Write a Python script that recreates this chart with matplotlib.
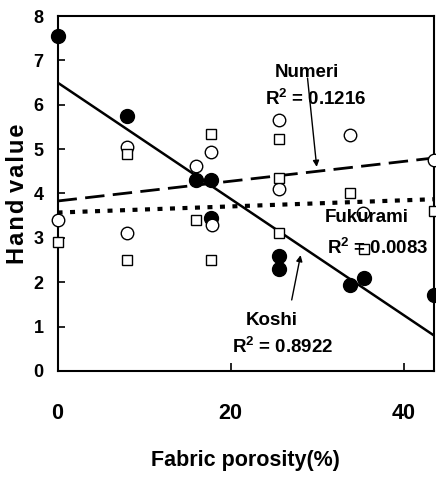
import matplotlib
matplotlib.use("Agg")
import matplotlib.pyplot as plt
import numpy as np

plt.rcParams['font.family'] = ['Liberation Sans', 'DejaVu Sans']
plt.rcParams['font.weight'] = 'bold'
plt.rcParams['mathtext.default'] = 'regular'

# Koshi (filled circles)
koshi_x = [0, 8, 16, 17.7, 17.7, 25.6, 25.6, 33.8, 35.4, 43.5]
koshi_y = [7.55, 5.75, 4.3, 4.3, 3.45, 2.6, 2.3, 1.94, 2.1, 1.71]
# Numeri (open circles)
numeri_x = [0, 8, 8, 16, 17.7, 17.9, 25.6, 25.6, 33.8, 35.3, 43.5]
numeri_y = [3.4, 5.05, 3.1, 4.62, 4.93, 3.3, 5.65, 4.1, 5.32, 3.55, 4.75]
# Fukurami (open squares)
fuku_x = [0, 8, 8, 16, 17.7, 17.7, 25.6, 25.6, 25.6, 33.8, 35.4, 43.5]
fuku_y = [2.9, 4.9, 2.5, 3.4, 5.33, 2.5, 5.22, 4.35, 3.12, 4.0, 2.75, 3.6]

# linear fits (intercept, slope)
koshi_fit = (6.5, -0.131)
numeri_fit = (3.83, 0.0223)
fuku_fit = (3.57, 0.0069)

xlim = (0, 43.5)
ylim = (0, 8)

fig = plt.figure(figsize=(4.36, 4.78), dpi=100)
ax = fig.add_axes([0.132, 0.224, 0.863, 0.7425])

xs = np.array(xlim)
ax.plot(xs, koshi_fit[0] + koshi_fit[1] * xs, '-', color='black', lw=1.8, zorder=2)
ax.plot(xs, numeri_fit[0] + numeri_fit[1] * xs, color='black', lw=2.0,
        dashes=(7, 3), zorder=2)
ax.plot(xs, fuku_fit[0] + fuku_fit[1] * xs, color='black', lw=3.0,
        dashes=(1.2, 1.8), zorder=2)

ax.plot(koshi_x, koshi_y, 'o', ms=10, mfc='black', mec='black', ls='none',
        clip_on=False, zorder=3)
ax.plot(numeri_x, numeri_y, 'o', ms=9, mfc='white', mec='black', mew=1.0,
        ls='none', clip_on=False, zorder=4)
ax.plot(fuku_x, fuku_y, 's', ms=7.5, mfc='white', mec='black', mew=1.0,
        ls='none', clip_on=False, zorder=5)

ax.set_xlim(*xlim)
ax.set_ylim(*ylim)
ax.set_xticks([0, 20, 40])
ax.set_yticks(range(0, 9))
ax.tick_params(axis='x', direction='in', length=6, width=1.2, pad=23, labelsize=15.5)
ax.tick_params(axis='y', direction='in', length=5, width=1.2, pad=10, labelsize=13)
for s in ax.spines.values():
    s.set_linewidth(1.5)

ax.set_xlabel('Fabric porosity(%)', fontsize=15.5, fontweight='bold')
ax.xaxis.set_label_coords(0.5, -0.222)
hs = '\u200a'
ax.set_ylabel(hs.join('Hand') + ' ' + hs.join('value'), fontsize=17, fontweight='bold')
ax.yaxis.set_label_coords(-0.075, 0.5)

tkw = dict(fontsize=13.5, fontweight='bold', va='center', ha='center', zorder=6)
ax.text(28.8, 6.72, 'Numeri', **tkw)
ax.text(29.9, 6.12, 'R$^2$ = 0.1216', **tkw)
ax.text(35.74, 3.45, 'Fukurami', **tkw)
ax.text(37.07, 2.77, 'R$^2$ = 0.0083', **tkw)
ax.text(24.8, 1.13, 'Koshi', **tkw)
ax.text(25.98, 0.54, 'R$^2$ = 0.8922', **tkw)

akw = dict(arrowstyle='-|>', color='black', lw=1.0, mutation_scale=9,
           shrinkA=0, shrinkB=0)
ax.annotate('', xy=(29.96, 4.6), xytext=(28.9, 6.6), arrowprops=akw)
ax.annotate('', xy=(28.1, 2.61), xytext=(27.07, 1.6), arrowprops=akw)

fig.savefig('out.png', dpi=100)
